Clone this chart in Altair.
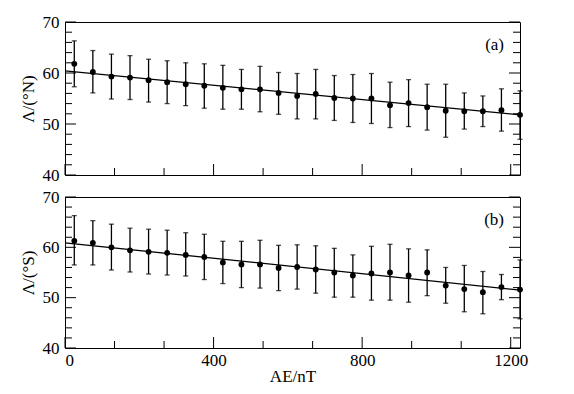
import altair as alt
import pandas as pd

# ---- data ----
ae_bins = [25, 75, 125, 175, 225, 275, 325, 375, 425, 475, 525, 575, 625,
           675, 725, 775, 825, 875, 925, 975, 1025, 1075, 1125, 1175, 1225]

lat_north = [61.8, 60.2, 59.3, 59.1, 58.6, 58.2, 57.8, 57.5, 57.1, 56.8, 56.8, 56.1, 55.5,
             55.9, 55.1, 55.0, 55.0, 53.7, 54.1, 53.3, 52.6, 52.5, 52.5, 52.7, 51.8]
north_upper = [66.3, 64.4, 63.7, 63.4, 62.7, 62.4, 62.0, 61.8, 61.5, 60.7, 61.3, 60.1, 59.9,
               60.7, 59.5, 59.7, 59.9, 58.2, 58.7, 57.8, 57.8, 56.1, 55.5, 56.9, 56.5]
north_lower = [57.3, 56.1, 54.9, 54.8, 54.3, 54.0, 53.6, 53.1, 52.9, 52.9, 52.4, 51.9, 51.0,
               51.0, 50.7, 50.3, 50.1, 49.3, 49.5, 48.8, 47.4, 49.0, 49.5, 48.6, 47.0]

lat_south = [61.3, 60.9, 60.0, 59.4, 59.1, 58.9, 58.5, 58.1, 57.0, 56.6, 56.6, 55.9, 56.1,
             55.6, 55.0, 54.4, 54.8, 55.0, 54.4, 55.0, 52.4, 51.7, 51.1, 52.1, 51.6]
south_upper = [66.3, 65.3, 64.6, 63.8, 63.6, 63.4, 62.9, 62.6, 61.2, 61.2, 61.4, 60.4, 60.5,
               60.3, 59.8, 58.5, 60.2, 60.6, 59.7, 59.5, 56.0, 56.4, 55.2, 54.6, 57.5]
south_lower = [56.5, 56.5, 55.5, 55.1, 54.7, 54.5, 54.3, 53.6, 52.8, 52.0, 51.9, 51.4, 51.7,
               50.9, 50.1, 50.1, 49.5, 49.5, 49.1, 50.4, 48.9, 47.2, 46.8, 49.6, 45.8]

fit_ae = [0, 1225]
fit_north = [60.4, 51.8]
fit_south = [60.9, 51.5]

x_major = [0, 400, 800, 1200]
x_minor = [133.333, 266.667, 533.333, 666.667, 933.333, 1066.667]
y_major = [40, 50, 60, 70]
y_minor = [42, 44, 46, 48, 52, 54, 56, 58, 62, 64, 66, 68]

FONT = "Liberation Serif"
W = 455
MAJOR = 11
MINOR = 7
TXT = dict(labelFont=FONT, labelFontSize=17, labelColor="black",
           titleFont=FONT, titleFontSize=17, titleColor="black", titleFontWeight="normal")


def panel(mean, upper, lower, fit, ytitle, tag, bottom, H):
    pts = pd.DataFrame({"AE": ae_bins, "lat": mean, "hi": upper, "lo": lower})
    fit_df = pd.DataFrame({"AE": fit_ae, "lat": fit})
    tag_df = pd.DataFrame({"AE": [1182], "lat": [65.5], "tag": [tag]})

    xs = alt.Scale(domain=[0, 1225], nice=False, zero=False)
    ys = alt.Scale(domain=[40, 70], nice=False, zero=False)

    if bottom:
        x_lab = alt.Axis(values=x_major, orient="bottom", ticks=False, format="d",
                         labelPadding=4, title="AE/nT", titlePadding=0,
                         domain=False, grid=False, **TXT)
    else:
        x_lab = None
    y_lab = alt.Axis(values=y_major, orient="left", ticks=False, labelPadding=6,
                     title=ytitle, titlePadding=5, domain=False, grid=False, **TXT)

    # the same axis objects on every layer, so the shared axes merge cleanly
    def X(field):
        return alt.X(field, scale=xs, axis=x_lab)

    def Y(field):
        return alt.Y(field, scale=ys, axis=y_lab)

    err = alt.Chart(pts).mark_errorbar(
        ticks=True, size=5, thickness=1.3, color="black"
    ).encode(x=X("AE:Q"), y=Y("lo:Q"), y2="hi:Q")
    line = alt.Chart(fit_df).mark_line(color="black", strokeWidth=1.3).encode(
        x=X("AE:Q"), y=Y("lat:Q"))
    dots = alt.Chart(pts).mark_circle(size=34, color="black", opacity=1).encode(
        x=X("AE:Q"), y=Y("lat:Q"))
    label = alt.Chart(tag_df).mark_text(
        align="right", baseline="middle", fontSize=17, font=FONT, color="black"
    ).encode(x=X("AE:Q"), y=Y("lat:Q"), text="tag:N")

    # inward tick marks, positioned through the scales
    layers = [err, line, dots, label]
    for vals, size in ((y_minor, MINOR), (y_major, MAJOR)):
        tdf = pd.DataFrame({"v": vals})
        layers.append(alt.Chart(tdf).mark_rule(color="black", strokeWidth=1).encode(
            y=Y("v:Q"), x=alt.value(0), x2=alt.value(size)))
        layers.append(alt.Chart(tdf).mark_rule(color="black", strokeWidth=1).encode(
            y=Y("v:Q"), x=alt.value(W), x2=alt.value(W - size)))
    for vals, size in ((x_minor, MINOR), (x_major, MAJOR)):
        tdf = pd.DataFrame({"v": vals})
        layers.append(alt.Chart(tdf).mark_rule(color="black", strokeWidth=1).encode(
            x=X("v:Q"), y=alt.value(H), y2=alt.value(H - size)))

    return alt.layer(*layers).properties(width=W, height=H)


top = panel(lat_north, north_upper, north_lower, fit_north, "Λ/(°N)", "(a)", False, 153)
bot = panel(lat_south, south_upper, south_lower, fit_south, "Λ/(°S)", "(b)", True, 151)

chart = alt.vconcat(top, bot, spacing=22, bounds="flush").properties(
    padding={"left": 10, "top": 4, "right": 5, "bottom": 5},
    background="white",
).configure_view(
    stroke="black", strokeWidth=1
)

chart.save("out.html", embed_options={"renderer": "svg", "actions": False})
